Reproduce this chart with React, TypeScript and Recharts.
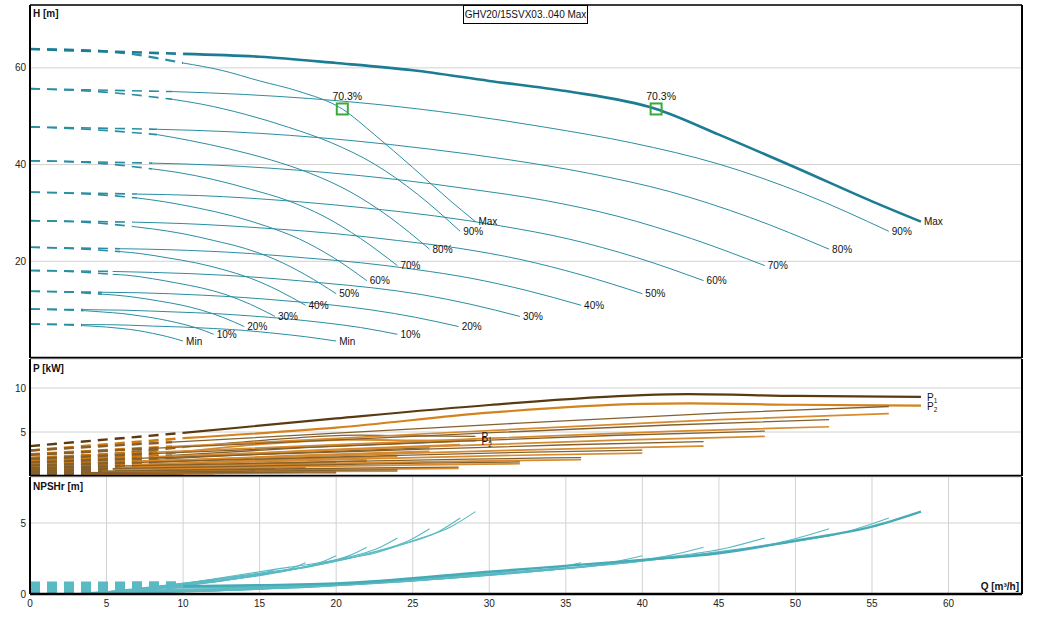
import React from "react";
import {
  CartesianGrid,
  Line,
  LineChart,
  ReferenceDot,
  ReferenceLine,
  XAxis,
  YAxis,
} from "recharts";

type Pt = [number, number];

const Q_MAX = 64.8;
const Q_TICKS = [0, 5, 10, 15, 20, 25, 30, 35, 40, 45, 50, 55, 60];
const H_TICKS = [0, 20, 40, 60];
const P_TICKS = [0, 5, 10];
const NPSH_TICKS = [0, 5];

const SPEED_LABELS = ["Max", "90%", "80%", "70%", "60%", "50%", "40%", "30%", "20%", "10%", "Min"];
// flow where the dashed (not allowed) part of each curve ends
const MIN_FLOW = [10, 9.3, 8.3, 8.0, 7.0, 6.7, 5.9, 5.4, 4.7, 3.5, 3.4];

const TITLE = "GHV20/15SVX03..040 Max";
const DUTY_Q = [20.4, 40.9];
const DUTY_H = [51.5, 51.5];
const DUTY_EFF = ["70.3%", "70.3%"];

// head, one pump running
const HEAD_ONE: Pt[][] = [
  [[0, 63.9], [5, 63.4], [10, 61.0], [12.5, 59.5], [15, 57.3], [17.5, 55.2], [20.4, 51.5], [22.5, 46.2], [25, 39.4], [27.5, 32.4], [29.1, 28.2]],
  [[0, 55.7], [5.6, 54.8], [9.3, 53.5], [11.2, 52.5], [14.05, 50.4], [16.9, 47.7], [19.7, 44.5], [22.5, 40.1], [25.3, 33.9], [28.1, 26.2]],
  [[0, 47.8], [5.2, 47.0], [8.3, 46.2], [10.4, 45.0], [13.05, 43.2], [15.7, 41.0], [18.3, 38.2], [20.9, 34.4], [23.5, 29.1], [26.1, 22.5]],
  [[0, 40.8], [4.8, 40.2], [8, 39.1], [9.6, 38.4], [12, 36.9], [14.4, 34.9], [16.8, 32.6], [19.2, 29.3], [21.6, 24.7], [24, 19.1]],
  [[0, 34.3], [4.4, 33.8], [7, 33.1], [8.8, 32.3], [11, 31.0], [13.2, 29.4], [15.4, 27.3], [17.6, 24.6], [19.8, 20.8], [22, 16.0]],
  [[0, 28.4], [4, 28.0], [6.7, 27.2], [8, 26.7], [10, 25.7], [12, 24.3], [14, 22.7], [16, 20.4], [18, 17.2], [20, 13.3]],
  [[0, 22.9], [3.6, 22.5], [5.9, 22.0], [7.2, 21.6], [9, 20.7], [10.8, 19.7], [12.6, 18.3], [14.4, 16.5], [16.2, 14.0], [18, 10.9]],
  [[0, 18.1], [3.2, 17.8], [5.4, 17.3], [6.4, 17.1], [8, 16.4], [9.6, 15.5], [11.2, 14.5], [12.8, 13.1], [14.4, 11.1], [16, 8.6]],
  [[0, 13.8], [2.8, 13.6], [4.7, 13.2], [5.6, 13.0], [7, 12.5], [8.4, 11.8], [9.8, 11.0], [11.2, 9.9], [12.6, 8.4], [14, 6.5]],
  [[0, 10.1], [2.4, 9.95], [3.5, 9.8], [4.8, 9.5], [6, 9.2], [7.2, 8.7], [8.4, 8.1], [9.6, 7.3], [10.8, 6.3], [12, 4.9]],
  [[0, 7.0], [2, 6.9], [3.4, 6.7], [4, 6.6], [5, 6.4], [6, 6.1], [7, 5.7], [8, 5.1], [9, 4.4], [10, 3.5]],
];

// head, two pumps in parallel
const HEAD_TWO: Pt[][] = [
  [[0, 63.9], [10, 62.9], [15, 62.3], [20, 61.0], [25, 59.5], [30, 57.3], [35, 55.2], [40.9, 51.5], [45, 46.2], [50, 39.4], [55, 32.4], [58.2, 28.2]],
  [[0, 55.7], [9.3, 55.1], [14, 54.5], [22.5, 52.5], [28.1, 50.4], [33.7, 47.7], [39.3, 44.5], [45, 40.1], [50.6, 33.9], [56.1, 26.2]],
  [[0, 47.8], [8.3, 47.3], [13, 46.8], [20.9, 45.0], [26.1, 43.2], [31.3, 41.0], [36.5, 38.2], [41.8, 34.4], [47, 29.1], [52.2, 22.5]],
  [[0, 40.8], [8, 40.3], [12, 39.9], [19.2, 38.4], [24, 36.9], [28.8, 34.9], [33.6, 32.6], [38.4, 29.3], [43.2, 24.7], [48, 19.1]],
  [[0, 34.3], [7, 33.9], [11, 33.6], [17.6, 32.3], [22, 31.0], [26.4, 29.4], [30.8, 27.3], [35.2, 24.6], [39.6, 20.8], [44, 16.0]],
  [[0, 28.4], [6.7, 28.1], [10, 27.8], [16, 26.7], [20, 25.7], [24, 24.3], [28, 22.7], [32, 20.4], [36, 17.2], [40, 13.3]],
  [[0, 22.9], [5.9, 22.6], [9, 22.4], [14.4, 21.6], [18, 20.7], [21.6, 19.7], [25.2, 18.3], [28.8, 16.5], [32.4, 14.0], [36, 10.9]],
  [[0, 18.1], [5.4, 17.9], [8, 17.7], [12.8, 17.1], [16, 16.4], [19.2, 15.5], [22.4, 14.5], [25.6, 13.1], [28.8, 11.1], [32, 8.6]],
  [[0, 13.8], [4.7, 13.6], [7, 13.5], [11.2, 13.0], [14, 12.5], [16.8, 11.8], [19.6, 11.0], [22.4, 9.9], [25.2, 8.4], [28, 6.5]],
  [[0, 10.1], [3.5, 10.0], [6, 9.9], [9.6, 9.5], [12, 9.2], [14.4, 8.7], [16.8, 8.1], [19.2, 7.3], [21.6, 6.3], [24, 4.9]],
  [[0, 7.0], [3.4, 6.9], [5, 6.9], [8, 6.6], [10, 6.4], [12, 6.1], [14, 5.7], [16, 5.1], [18, 4.4], [20, 3.5]],
];

// power P1 / P2, one pump
const P1_ONE: Pt[][] = [
  [[0, 1.7], [5, 2.45], [10, 3.28], [15, 4.03], [20, 4.6], [21.5, 4.65], [25, 4.55], [29.1, 4.5]],
  [[0, 1.45], [9.3, 2.35], [18.3, 3.25], [28.1, 3.95]],
  [[0, 1.2], [8.3, 1.92], [17, 2.64], [26.1, 3.2]],
  [[0, 0.98], [8, 1.55], [15.6, 2.11], [24, 2.55]],
  [[0, 0.78], [7, 1.2], [14.3, 1.62], [22, 1.95]],
  [[0, 0.6], [6.7, 0.92], [13, 1.23], [20, 1.48]],
  [[0, 0.45], [5.9, 0.67], [11.7, 0.88], [18, 1.05]],
  [[0, 0.33], [5.4, 0.5], [10.4, 0.67], [16, 0.8]],
  [[0, 0.23], [4.7, 0.33], [9.1, 0.42], [14, 0.5]],
  [[0, 0.15], [3.5, 0.22], [7.8, 0.29], [12, 0.35]],
  [[0, 0.1], [3.4, 0.15], [6.5, 0.19], [10, 0.23]],
];
const P2_ONE: Pt[][] = [
  [[0, 1.45], [5, 2.15], [10, 2.75], [15, 3.6], [20, 4.1], [21.5, 4.12], [25, 4.05], [29.1, 4.0]],
  [[0, 1.23], [9.3, 2.07], [18.3, 2.9], [28.1, 3.55]],
  [[0, 1.0], [8.3, 1.65], [17, 2.3], [26.1, 2.8]],
  [[0, 0.83], [8, 1.34], [15.6, 1.85], [24, 2.25]],
  [[0, 0.66], [7, 1.03], [14.3, 1.41], [22, 1.7]],
  [[0, 0.5], [6.7, 0.79], [13, 1.08], [20, 1.3]],
  [[0, 0.38], [5.9, 0.57], [11.7, 0.77], [18, 0.92]],
  [[0, 0.28], [5.4, 0.43], [10.4, 0.58], [16, 0.7]],
  [[0, 0.19], [4.7, 0.28], [9.1, 0.36], [14, 0.43]],
  [[0, 0.12], [3.5, 0.18], [7.8, 0.24], [12, 0.28]],
  [[0, 0.08], [3.4, 0.12], [6.5, 0.15], [10, 0.18]],
];

// power P1 / P2, two pumps
const P1_TWO: Pt[][] = [
  [[0, 3.4], [10, 4.9], [20, 6.55], [30, 8.07], [40, 9.2], [43, 9.3], [50, 9.1], [58.2, 9.0]],
  [[0, 2.9], [9.3, 3.85], [28.1, 5.65], [45, 7.15], [56.1, 7.9]],
  [[0, 2.4], [8.3, 3.16], [26.1, 4.6], [41.8, 5.8], [52.2, 6.4]],
  [[0, 1.95], [8, 2.55], [24, 3.68], [38.4, 4.63], [48, 5.1]],
  [[0, 1.55], [7, 2.0], [22, 2.84], [35.2, 3.55], [44, 3.9]],
  [[0, 1.2], [6.7, 1.53], [20, 2.16], [32, 2.69], [40, 2.95]],
  [[0, 0.9], [5.9, 1.13], [18, 1.56], [28.8, 1.92], [36, 2.1]],
  [[0, 0.65], [5.4, 0.83], [16, 1.17], [25.6, 1.46], [32, 1.6]],
  [[0, 0.45], [4.7, 0.55], [14, 0.75], [22.4, 0.92], [28, 1.0]],
  [[0, 0.3], [3.5, 0.38], [12, 0.52], [19.2, 0.64], [24, 0.7]],
  [[0, 0.2], [3.4, 0.25], [10, 0.34], [16, 0.41], [20, 0.45]],
];
const P2_TWO: Pt[][] = [
  [[0, 2.9], [10, 4.3], [20, 5.5], [30, 7.2], [40, 8.2], [43, 8.25], [50, 8.1], [58.2, 8.0]],
  [[0, 2.45], [9.3, 3.33], [28.1, 5.0], [45, 6.4], [56.1, 7.1]],
  [[0, 2.05], [8.3, 2.72], [26.1, 4.0], [41.8, 5.07], [52.2, 5.6]],
  [[0, 1.65], [8, 2.19], [24, 3.22], [38.4, 4.07], [48, 4.5]],
  [[0, 1.3], [7, 1.7], [22, 2.46], [35.2, 3.09], [44, 3.4]],
  [[0, 1.0], [6.7, 1.3], [20, 1.88], [32, 2.36], [40, 2.6]],
  [[0, 0.76], [5.9, 0.97], [18, 1.36], [28.8, 1.69], [36, 1.85]],
  [[0, 0.55], [5.4, 0.71], [16, 1.02], [25.6, 1.27], [32, 1.4]],
  [[0, 0.38], [4.7, 0.47], [14, 0.64], [22.4, 0.78], [28, 0.85]],
  [[0, 0.25], [3.5, 0.31], [12, 0.42], [19.2, 0.51], [24, 0.55]],
  [[0, 0.16], [3.4, 0.2], [10, 0.27], [16, 0.33], [20, 0.35]],
];

// NPSHr, one pump / two pumps
const NPSH_ONE: Pt[][] = [
  [[0, 0.7], [10, 0.72], [15, 1.57], [20, 2.4], [22.5, 2.87], [25, 3.75], [27.5, 4.74], [29.1, 5.8]],
  [[0, 0.62], [9.3, 0.62], [14.05, 1.33], [19.7, 2.23], [23.9, 3.36], [26.7, 4.4], [28.1, 5.35]],
  [[0, 0.55], [8.3, 0.55], [13, 1.16], [18.3, 1.93], [22.2, 2.9], [24.8, 3.79], [26.1, 4.6]],
  [[0, 0.48], [8, 0.48], [12, 1.0], [16.8, 1.66], [20.4, 2.49], [22.8, 3.26], [24, 3.95]],
  [[0, 0.4], [7, 0.4], [11, 0.84], [15.4, 1.39], [18.7, 2.08], [20.9, 2.72], [22, 3.3]],
  [[0, 0.33], [6.7, 0.33], [10, 0.69], [14, 1.14], [17, 1.7], [19, 2.23], [20, 2.7]],
  [[0, 0.27], [5.9, 0.27], [9, 0.56], [12.6, 0.93], [15.3, 1.39], [17.1, 1.81], [18, 2.2]],
  [[0, 0.2], [5.4, 0.2], [8, 0.43], [11.2, 0.73], [13.6, 1.1], [15.2, 1.44], [16, 1.75]],
  [[0, 0.14], [4.7, 0.14], [7, 0.32], [9.8, 0.55], [11.9, 0.84], [13.3, 1.11], [14, 1.35]],
  [[0, 0.09], [3.5, 0.09], [6, 0.23], [8.4, 0.4], [10.2, 0.62], [11.4, 0.82], [12, 1.0]],
  [[0, 0.05], [3.4, 0.05], [5, 0.16], [7, 0.29], [8.5, 0.46], [9.5, 0.61], [10, 0.75]],
];
const NPSH_TWO: Pt[][] = [
  [[0, 0.6], [10, 0.55], [20, 0.75], [30, 1.57], [40, 2.4], [45, 2.87], [50, 3.75], [55, 4.74], [58.2, 5.8]],
  [[0, 0.55], [9.3, 0.5], [18.6, 0.62], [28.1, 1.33], [39.3, 2.23], [47.8, 3.36], [53.4, 4.4], [56.1, 5.35]],
  [[0, 0.48], [8.3, 0.45], [16.6, 0.55], [26.1, 1.16], [36.5, 1.93], [44.4, 2.9], [49.6, 3.79], [52.2, 4.6]],
  [[0, 0.42], [8, 0.4], [16, 0.48], [24, 1.0], [33.6, 1.66], [40.8, 2.49], [45.6, 3.26], [48, 3.95]],
  [[0, 0.35], [7, 0.33], [14, 0.4], [22, 0.84], [30.8, 1.39], [37.4, 2.08], [41.8, 2.72], [44, 3.3]],
  [[0, 0.3], [6.7, 0.27], [13.4, 0.33], [20, 0.69], [28, 1.14], [34, 1.7], [38, 2.23], [40, 2.7]],
  [[0, 0.24], [5.9, 0.22], [11.8, 0.27], [18, 0.56], [25.2, 0.93], [30.6, 1.39], [34.2, 1.81], [36, 2.2]],
  [[0, 0.18], [5.4, 0.16], [10.8, 0.2], [16, 0.43], [22.4, 0.73], [27.2, 1.1], [30.4, 1.44], [32, 1.75]],
  [[0, 0.12], [4.7, 0.11], [9.4, 0.14], [14, 0.32], [19.6, 0.55], [23.8, 0.84], [26.6, 1.11], [28, 1.35]],
  [[0, 0.08], [3.5, 0.07], [7, 0.09], [12, 0.23], [16.8, 0.4], [20.4, 0.62], [22.8, 0.82], [24, 1.0]],
  [[0, 0.04], [3.4, 0.04], [6.8, 0.05], [10, 0.16], [14, 0.29], [17, 0.46], [19, 0.61], [20, 0.75]],
];

const FONT = "Arial, 'Liberation Sans', sans-serif";
const GRID = "#d2d2d2";
const HEAD_COLOR = "#2a8ea2";
const HEAD_MAX_COLOR = "#1c7c93";
const P1_COLOR = "#84602c";
const P2_COLOR = "#d78a2e";
const P1_MAX_COLOR = "#5a3a10";
const P2_MAX_COLOR = "#d3821c";
const P_DASH_COLOR = "#d07a12";
const NPSH_COLOR = "#5ab9c2";

// Max drawn last so it sits on top
const DRAW_ORDER = [10, 9, 8, 7, 6, 5, 4, 3, 2, 1, 0];

const rows = (pts: Pt[]) => pts.map(([q, v]) => ({ q, v }));
const dashed = (pts: Pt[], qMin: number) => rows(pts.filter((p) => p[0] <= qMin + 1e-6));
const solid = (pts: Pt[], qMin: number) => rows(pts.filter((p) => p[0] >= qMin - 1e-6));

function curveLines(
  id: string,
  curves: Pt[][],
  color: (i: number) => string,
  width: (i: number) => number,
  dashColor: (i: number) => string,
  dashWidth: (i: number) => number,
) {
  return DRAW_ORDER.flatMap((i) => [
    <Line
      key={`${id}-d${i}`}
      data={dashed(curves[i], MIN_FLOW[i])}
      dataKey="v"
      type="monotone"
      stroke={dashColor(i)}
      strokeWidth={dashWidth(i)}
      strokeDasharray="10 7"
      dot={false}
      activeDot={false}
      isAnimationActive={false}
    />,
    <Line
      key={`${id}-s${i}`}
      data={solid(curves[i], MIN_FLOW[i])}
      dataKey="v"
      type="monotone"
      stroke={color(i)}
      strokeWidth={width(i)}
      dot={false}
      activeDot={false}
      isAnimationActive={false}
    />,
  ]);
}

function endLabels(id: string, curves: Pt[][]) {
  return curves.map((pts, i) => {
    const [q, v] = pts[pts.length - 1];
    return (
      <ReferenceDot
        key={`${id}-l${i}`}
        x={q}
        y={v}
        r={1}
        fill="none"
        stroke="none"
        ifOverflow="visible"
        label={{ value: SPEED_LABELS[i], position: "right", offset: 2, fontSize: 10, fill: "#111", fontFamily: FONT }}
      />
    );
  });
}

function powerLabel(key: string, pts: Pt[], sub: string) {
  const [q, v] = pts[pts.length - 1];
  return (
    <ReferenceDot
      key={key}
      x={q}
      y={v}
      r={1}
      ifOverflow="visible"
      shape={(p: any) => (
        <text x={p.cx + 6} y={p.cy + 4} fontSize={10} fill="#111" fontFamily={FONT}>
          P
          <tspan fontSize={6.5} dy={2}>
            {sub}
          </tspan>
        </text>
      )}
    />
  );
}

const xAxisCommon = {
  dataKey: "q",
  type: "number" as const,
  domain: [0, Q_MAX],
  ticks: Q_TICKS,
  allowDataOverflow: true,
};

function yAxis(max: number, ticks: number[]) {
  return (
    <YAxis
      type="number"
      domain={[0, max]}
      ticks={ticks}
      allowDataOverflow
      width={30}
      tickSize={0}
      tickMargin={4}
      tick={{ fontSize: 10, fill: "#222", fontFamily: FONT }}
      axisLine={{ stroke: "#000", strokeWidth: 2 }}
    />
  );
}

const titleStyle: React.CSSProperties = {
  position: "absolute",
  fontFamily: FONT,
  fontSize: 10,
  fontWeight: "bold",
  color: "#111",
  lineHeight: "12px",
  whiteSpace: "nowrap",
};

export default function App() {
  const isMax = (i: number) => i === 0;

  return (
    <div style={{ position: "absolute", left: 0, top: 0, width: 1042, height: 619, background: "#fff", fontFamily: FONT }}>
      <div style={{ position: "absolute", left: 0, top: 0 }}>
        <LineChart width={1042} height={359} margin={{ top: 5, right: 20, bottom: 0, left: 0 }}>
          <CartesianGrid stroke={GRID} strokeWidth={1} />
          <XAxis {...xAxisCommon} height={1} tick={false} tickLine={false} axisLine={{ stroke: "#000", strokeWidth: 2.5 }} />
          {yAxis(73, H_TICKS)}
          {curveLines(
            "h1",
            HEAD_ONE,
            () => HEAD_COLOR,
            () => 1,
            () => HEAD_COLOR,
            (i) => (isMax(i) ? 2.2 : 1.6),
          )}
          {curveLines(
            "h2",
            HEAD_TWO,
            (i) => (isMax(i) ? HEAD_MAX_COLOR : HEAD_COLOR),
            (i) => (isMax(i) ? 2.6 : 1),
            (i) => (isMax(i) ? HEAD_MAX_COLOR : HEAD_COLOR),
            (i) => (isMax(i) ? 2.6 : 1.6),
          )}
          {endLabels("h1", HEAD_ONE)}
          {endLabels("h2", HEAD_TWO)}
          {DUTY_Q.map((q, i) => (
            <ReferenceDot
              key={`duty${i}`}
              x={q}
              y={DUTY_H[i]}
              r={6}
              ifOverflow="visible"
              shape={(p: any) => (
                <g>
                  <rect x={p.cx - 5.5} y={p.cy - 5.5} width={11} height={11} fill="none" stroke="#3aa83a" strokeWidth={2} />
                  <text x={p.cx + 5} y={p.cy - 8.5} textAnchor="middle" fontSize={10.5} fill="#111" fontFamily={FONT}>
                    {DUTY_EFF[i]}
                  </text>
                </g>
              )}
            />
          ))}
          <ReferenceLine y={73} stroke="#000" strokeWidth={1.5} />
          <ReferenceLine x={Q_MAX} stroke="#000" strokeWidth={2} />
        </LineChart>
      </div>

      <div style={{ position: "absolute", left: 0, top: 358 }}>
        <LineChart width={1042} height={119} margin={{ top: 1, right: 20, bottom: 0, left: 0 }}>
          <CartesianGrid stroke={GRID} strokeWidth={1} />
          <XAxis {...xAxisCommon} height={1} tick={false} tickLine={false} axisLine={{ stroke: "#000", strokeWidth: 2.5 }} />
          {yAxis(13.3, P_TICKS)}
          {curveLines("p2o", P2_ONE, () => P2_COLOR, () => 1.9, () => P_DASH_COLOR, () => 3)}
          {curveLines("p1o", P1_ONE, () => P1_COLOR, () => 1.3, () => P1_COLOR, () => 2.4)}
          {curveLines(
            "p2t",
            P2_TWO,
            (i) => (isMax(i) ? P2_MAX_COLOR : P2_COLOR),
            (i) => (isMax(i) ? 2.2 : 1.7),
            () => P_DASH_COLOR,
            (i) => (isMax(i) ? 2.6 : 3),
          )}
          {curveLines(
            "p1t",
            P1_TWO,
            (i) => (isMax(i) ? P1_MAX_COLOR : P1_COLOR),
            (i) => (isMax(i) ? 2.2 : 1.3),
            (i) => (isMax(i) ? P1_MAX_COLOR : P1_COLOR),
            () => 2.4,
          )}
          {powerLabel("pl1o", P1_ONE[0], "1")}
          {powerLabel("pl2o", P2_ONE[0], "2")}
          {powerLabel("pl1t", P1_TWO[0], "1")}
          {powerLabel("pl2t", P2_TWO[0], "2")}
          <ReferenceLine x={Q_MAX} stroke="#000" strokeWidth={2} />
        </LineChart>
      </div>

      <div style={{ position: "absolute", left: 0, top: 476 }}>
        <LineChart width={1042} height={143} margin={{ top: 1, right: 20, bottom: 0, left: 0 }}>
          <CartesianGrid stroke={GRID} strokeWidth={1} />
          <XAxis
            {...xAxisCommon}
            height={25}
            tickSize={0}
            tickMargin={6}
            tick={{ fontSize: 10, fill: "#222", fontFamily: FONT }}
            axisLine={{ stroke: "#000", strokeWidth: 2.5 }}
          />
          {yAxis(8.24, NPSH_TICKS)}
          {curveLines("n1", NPSH_ONE, () => NPSH_COLOR, () => 1.1, () => NPSH_COLOR, () => 5)}
          {curveLines(
            "n2",
            NPSH_TWO,
            (i) => (isMax(i) ? "#46abb6" : NPSH_COLOR),
            (i) => (isMax(i) ? 2.4 : 1.1),
            () => NPSH_COLOR,
            () => 5,
          )}
          <ReferenceLine x={Q_MAX} stroke="#000" strokeWidth={2} />
        </LineChart>
      </div>

      <div style={{ ...titleStyle, left: 33, top: 8 }}>H [m]</div>
      <div style={{ ...titleStyle, left: 33, top: 363 }}>P [kW]</div>
      <div style={{ ...titleStyle, left: 33, top: 481 }}>NPSHr [m]</div>
      <div style={{ ...titleStyle, right: 1042 - 1019, top: 581 }}>Q [m³/h]</div>
      <div
        style={{
          position: "absolute",
          left: 463,
          top: 5,
          width: 125,
          height: 19,
          border: "1px solid #000",
          background: "#fff",
          fontFamily: FONT,
          fontSize: 10,
          lineHeight: "17px",
          textAlign: "center",
          color: "#111",
          whiteSpace: "nowrap",
          boxSizing: "border-box",
        }}
      >
        {TITLE}
      </div>
    </div>
  );
}
